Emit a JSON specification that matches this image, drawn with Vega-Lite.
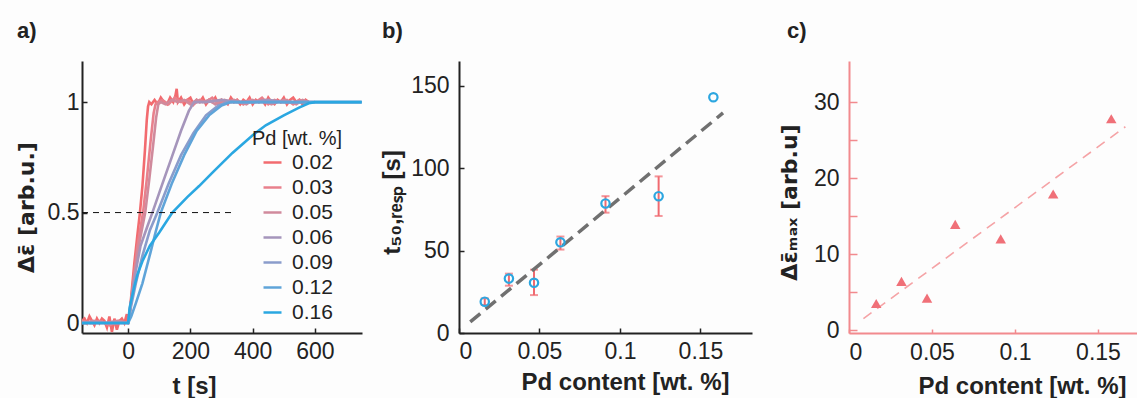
{
  "$schema": "https://vega.github.io/schema/vega-lite/v6.json",
  "background": "#fdfdfd",
  "padding": {"left": 14, "top": 20, "right": 0, "bottom": 0},
  "autosize": {"type": "pad"},
  "config": {
    "font": "Liberation Sans",
    "view": {"stroke": null},
    "axis": {
      "grid": false,
      "domainColor": "#222222",
      "domainWidth": 2,
      "tickColor": "#222222",
      "tickWidth": 1.5,
      "tickSize": -5,
      "labelFont": "Liberation Sans",
      "labelFontSize": 23,
      "labelColor": "#222222",
      "titleFont": "Liberation Sans",
      "titleFontSize": 24,
      "titleFontWeight": "bold",
      "titleColor": "#222222"
    },
    "title": {"font": "Liberation Sans", "fontSize": 22, "fontWeight": "bold", "color": "#222222", "anchor": "start", "frame": "group"}
  },
  "bounds": "flush",
  "spacing": 97,
  "datasets": {
    "curves": [
      {"p":"0.02","t":-148,"v":0.01},{"p":"0.02","t":-140,"v":0.02},{"p":"0.02","t":-132,"v":0.0},{"p":"0.02","t":-124,"v":0.03},{"p":"0.02","t":-116,"v":0.01},{"p":"0.02","t":-108,"v":-0.01},{"p":"0.02","t":-100,"v":0.02},{"p":"0.02","t":-92,"v":0.0},{"p":"0.02","t":-84,"v":0.02},{"p":"0.02","t":-76,"v":0.01},{"p":"0.02","t":-68,"v":-0.02},{"p":"0.02","t":-60,"v":0.03},{"p":"0.02","t":-52,"v":-0.04},{"p":"0.02","t":-44,"v":0.02},{"p":"0.02","t":-36,"v":-0.03},{"p":"0.02","t":-28,"v":0.01},{"p":"0.02","t":-20,"v":0.02},{"p":"0.02","t":-12,"v":0.0},{"p":"0.02","t":-4,"v":0.04},{"p":"0.02","t":0,"v":0.0},
      {"p":"0.02","t":3,"v":0.02},{"p":"0.02","t":10,"v":0.12},{"p":"0.02","t":20,"v":0.27},{"p":"0.02","t":30,"v":0.4},{"p":"0.02","t":38,"v":0.5},{"p":"0.02","t":46,"v":0.62},{"p":"0.02","t":54,"v":0.78},{"p":"0.02","t":60,"v":0.92},{"p":"0.02","t":64,"v":0.98},{"p":"0.02","t":68,"v":1.0},
      {"p":"0.02","t":75,"v":0.99},{"p":"0.02","t":85,"v":1.01},{"p":"0.02","t":95,"v":0.99},{"p":"0.02","t":105,"v":1.02},{"p":"0.02","t":115,"v":1.0},{"p":"0.02","t":125,"v":0.99},{"p":"0.02","t":135,"v":1.02},{"p":"0.02","t":145,"v":1.0},{"p":"0.02","t":152,"v":1.03},{"p":"0.02","t":156,"v":1.06},{"p":"0.02","t":160,"v":1.0},{"p":"0.02","t":170,"v":1.02},{"p":"0.02","t":180,"v":0.99},{"p":"0.02","t":190,"v":1.01},{"p":"0.02","t":200,"v":1.02},{"p":"0.02","t":210,"v":0.99},{"p":"0.02","t":220,"v":1.01},{"p":"0.02","t":230,"v":1.0},{"p":"0.02","t":240,"v":1.02},{"p":"0.02","t":250,"v":0.99},{"p":"0.02","t":260,"v":1.01},{"p":"0.02","t":270,"v":1.0},{"p":"0.02","t":280,"v":1.02},{"p":"0.02","t":290,"v":0.99},{"p":"0.02","t":300,"v":1.01},{"p":"0.02","t":310,"v":1.0},{"p":"0.02","t":320,"v":0.99},{"p":"0.02","t":330,"v":1.02},{"p":"0.02","t":340,"v":1.0},{"p":"0.02","t":350,"v":1.01},{"p":"0.02","t":360,"v":0.99},{"p":"0.02","t":370,"v":1.01},{"p":"0.02","t":380,"v":1.0},{"p":"0.02","t":390,"v":1.02},{"p":"0.02","t":400,"v":0.99},{"p":"0.02","t":410,"v":1.01},{"p":"0.02","t":420,"v":1.0},{"p":"0.02","t":430,"v":1.01},{"p":"0.02","t":440,"v":0.99},{"p":"0.02","t":450,"v":1.02},{"p":"0.02","t":460,"v":1.0},{"p":"0.02","t":470,"v":0.99},{"p":"0.02","t":480,"v":1.01},{"p":"0.02","t":490,"v":1.0},{"p":"0.02","t":500,"v":1.02},{"p":"0.02","t":510,"v":0.99},{"p":"0.02","t":520,"v":1.01},{"p":"0.02","t":530,"v":1.02},{"p":"0.02","t":540,"v":1.0},{"p":"0.02","t":550,"v":1.01},{"p":"0.02","t":560,"v":0.99},{"p":"0.02","t":570,"v":1.01},{"p":"0.02","t":580,"v":1.0},
      {"p":"0.03","t":-148,"v":0.01},{"p":"0.03","t":-120,"v":0.0},{"p":"0.03","t":-90,"v":0.01},{"p":"0.03","t":-60,"v":-0.01},{"p":"0.03","t":-30,"v":0.01},{"p":"0.03","t":0,"v":0.0},
      {"p":"0.03","t":5,"v":0.04},{"p":"0.03","t":15,"v":0.17},{"p":"0.03","t":30,"v":0.35},{"p":"0.03","t":48,"v":0.5},{"p":"0.03","t":60,"v":0.65},{"p":"0.03","t":72,"v":0.82},{"p":"0.03","t":82,"v":0.95},{"p":"0.03","t":88,"v":0.99},{"p":"0.03","t":95,"v":1.0},
      {"p":"0.03","t":110,"v":1.01},{"p":"0.03","t":130,"v":0.99},{"p":"0.03","t":150,"v":1.02},{"p":"0.03","t":170,"v":1.0},{"p":"0.03","t":190,"v":1.01},{"p":"0.03","t":210,"v":0.99},{"p":"0.03","t":230,"v":1.01},{"p":"0.03","t":250,"v":1.0},{"p":"0.03","t":270,"v":1.02},{"p":"0.03","t":290,"v":0.99},{"p":"0.03","t":310,"v":1.01},{"p":"0.03","t":330,"v":1.0},{"p":"0.03","t":350,"v":1.01},{"p":"0.03","t":370,"v":0.99},{"p":"0.03","t":390,"v":1.01},{"p":"0.03","t":410,"v":1.0},{"p":"0.03","t":430,"v":1.02},{"p":"0.03","t":450,"v":0.99},{"p":"0.03","t":470,"v":1.01},{"p":"0.03","t":490,"v":1.0},{"p":"0.03","t":510,"v":1.01},{"p":"0.03","t":530,"v":0.99},{"p":"0.03","t":550,"v":1.01},{"p":"0.03","t":570,"v":1.0},{"p":"0.03","t":580,"v":1.0},
      {"p":"0.05","t":-148,"v":0.0},{"p":"0.05","t":-110,"v":0.01},{"p":"0.05","t":-70,"v":0.0},{"p":"0.05","t":-35,"v":0.01},{"p":"0.05","t":0,"v":0.0},
      {"p":"0.05","t":5,"v":0.04},{"p":"0.05","t":15,"v":0.15},{"p":"0.05","t":30,"v":0.32},{"p":"0.05","t":55,"v":0.5},{"p":"0.05","t":68,"v":0.65},{"p":"0.05","t":80,"v":0.8},{"p":"0.05","t":90,"v":0.93},{"p":"0.05","t":97,"v":0.99},{"p":"0.05","t":105,"v":1.0},
      {"p":"0.05","t":120,"v":0.99},{"p":"0.05","t":140,"v":1.01},{"p":"0.05","t":160,"v":1.0},{"p":"0.05","t":180,"v":1.01},{"p":"0.05","t":200,"v":0.99},{"p":"0.05","t":220,"v":1.01},{"p":"0.05","t":240,"v":1.0},{"p":"0.05","t":260,"v":1.01},{"p":"0.05","t":280,"v":0.99},{"p":"0.05","t":300,"v":1.01},{"p":"0.05","t":320,"v":1.0},{"p":"0.05","t":340,"v":1.01},{"p":"0.05","t":360,"v":1.0},{"p":"0.05","t":380,"v":0.99},{"p":"0.05","t":400,"v":1.01},{"p":"0.05","t":420,"v":1.0},{"p":"0.05","t":440,"v":1.01},{"p":"0.05","t":460,"v":0.99},{"p":"0.05","t":480,"v":1.0},{"p":"0.05","t":500,"v":1.01},{"p":"0.05","t":520,"v":1.0},{"p":"0.05","t":540,"v":0.99},{"p":"0.05","t":560,"v":1.01},{"p":"0.05","t":580,"v":1.0},
      {"p":"0.06","t":-148,"v":0.0},{"p":"0.06","t":0,"v":0.0},{"p":"0.06","t":5,"v":0.05},{"p":"0.06","t":20,"v":0.2},{"p":"0.06","t":40,"v":0.35},{"p":"0.06","t":60,"v":0.43},{"p":"0.06","t":78,"v":0.5},{"p":"0.06","t":110,"v":0.63},{"p":"0.06","t":140,"v":0.75},{"p":"0.06","t":170,"v":0.87},{"p":"0.06","t":195,"v":0.96},{"p":"0.06","t":212,"v":1.0},{"p":"0.06","t":250,"v":1.0},{"p":"0.06","t":300,"v":1.01},{"p":"0.06","t":350,"v":1.0},{"p":"0.06","t":400,"v":1.0},{"p":"0.06","t":450,"v":1.01},{"p":"0.06","t":500,"v":1.0},{"p":"0.06","t":550,"v":1.0},{"p":"0.06","t":600,"v":1.0},
      {"p":"0.09","t":-148,"v":0.0},{"p":"0.09","t":0,"v":0.0},{"p":"0.09","t":10,"v":0.08},{"p":"0.09","t":25,"v":0.18},{"p":"0.09","t":45,"v":0.3},{"p":"0.09","t":70,"v":0.42},{"p":"0.09","t":94,"v":0.5},{"p":"0.09","t":130,"v":0.63},{"p":"0.09","t":170,"v":0.76},{"p":"0.09","t":210,"v":0.86},{"p":"0.09","t":250,"v":0.94},{"p":"0.09","t":290,"v":0.985},{"p":"0.09","t":320,"v":1.0},{"p":"0.09","t":400,"v":1.0},{"p":"0.09","t":500,"v":1.0},{"p":"0.09","t":600,"v":1.0},{"p":"0.09","t":750,"v":1.0},
      {"p":"0.12","t":-148,"v":0.0},{"p":"0.12","t":0,"v":0.0},{"p":"0.12","t":10,"v":0.03},{"p":"0.12","t":25,"v":0.09},{"p":"0.12","t":46,"v":0.18},{"p":"0.12","t":72,"v":0.32},{"p":"0.12","t":88,"v":0.41},{"p":"0.12","t":105,"v":0.5},{"p":"0.12","t":140,"v":0.63},{"p":"0.12","t":180,"v":0.76},{"p":"0.12","t":220,"v":0.87},{"p":"0.12","t":260,"v":0.94},{"p":"0.12","t":300,"v":0.985},{"p":"0.12","t":330,"v":1.0},{"p":"0.12","t":450,"v":1.0},{"p":"0.12","t":600,"v":1.0},{"p":"0.12","t":750,"v":1.0},
      {"p":"0.16","t":-148,"v":0.0},{"p":"0.16","t":0,"v":0.0},{"p":"0.16","t":5,"v":0.07},{"p":"0.16","t":19,"v":0.16},{"p":"0.16","t":30,"v":0.22},{"p":"0.16","t":46,"v":0.28},{"p":"0.16","t":70,"v":0.35},{"p":"0.16","t":100,"v":0.41},{"p":"0.16","t":142,"v":0.5},{"p":"0.16","t":190,"v":0.57},{"p":"0.16","t":228,"v":0.62},{"p":"0.16","t":270,"v":0.68},{"p":"0.16","t":335,"v":0.77},{"p":"0.16","t":400,"v":0.85},{"p":"0.16","t":442,"v":0.895},{"p":"0.16","t":500,"v":0.94},{"p":"0.16","t":549,"v":0.975},{"p":"0.16","t":580,"v":0.995},{"p":"0.16","t":600,"v":1.0},{"p":"0.16","t":650,"v":1.0},{"p":"0.16","t":700,"v":1.0},{"p":"0.16","t":750,"v":1.0}
    ],
    "half": [{"t0": -148, "t1": 335, "v": 0.5}],
    "t50": [
      {"pd":0.016,"t":19},{"pd":0.031,"t":33},{"pd":0.0466,"t":30.5},{"pd":0.063,"t":55},{"pd":0.091,"t":78.6},{"pd":0.124,"t":83},{"pd":0.158,"t":143}
    ],
    "t50err": [
      {"pd":0.016,"lo":17,"hi":21},{"pd":0.031,"lo":28.7,"hi":36},{"pd":0.0466,"lo":23,"hi":38.4},{"pd":0.063,"lo":50.6,"hi":58.5},{"pd":0.091,"lo":73,"hi":83},{"pd":0.124,"lo":71,"hi":95}
    ],
    "t50fit": [{"pd":0.007,"t":6.7},{"pd":0.164,"t":133.5}],
    "emax": [
      {"pd":0.0164,"e":3.5},{"pd":0.0316,"e":6.4},{"pd":0.047,"e":4.2},{"pd":0.064,"e":13.9},{"pd":0.0914,"e":12.0},{"pd":0.123,"e":17.9},{"pd":0.158,"e":27.8}
    ],
    "emaxfit": [{"pd":0.0087,"e":1.5},{"pd":0.1665,"e":26.75}]
  },
  "hconcat": [
    {
      "width": 280,
      "height": 272,
      "title": {"text": "a)", "dx": -65, "offset": 18},
      "layer": [
        {
          "data": {"name": "curves"},
          "mark": {"type": "line", "strokeWidth": 2.6, "clip": true},
          "encoding": {
            "x": {"field": "t", "type": "quantitative",
              "scale": {"domain": [-148, 751], "nice": false, "zero": false},
              "axis": {"values": [0, 200, 400, 600], "title": "t [s]", "labelPadding": 12, "titleX": 112, "titleY": 60, "titleBaseline": "alphabetic"}},
            "y": {"field": "v", "type": "quantitative",
              "scale": {"domain": [-0.045, 1.186], "nice": false, "zero": false},
              "axis": {"values": [0, 0.5, 1], "format": "~g", "title": "Δε̄  [arb.u.]", "titleFont": "DejaVu Sans", "titleFontSize": 22, "labelPadding": 8, "titleX": -49, "titleY": 146, "titleBaseline": "alphabetic"}},
            "color": {"field": "p", "type": "nominal",
              "scale": {"domain": ["0.02","0.03","0.05","0.06","0.09","0.12","0.16"],
                        "range": ["#f26b6f","#e8808c","#d08a9c","#a595bb","#8a9ccb","#5fa4d9","#2aa7e1"]},
              "legend": {"title": "Pd [wt. %]", "orient": "none", "legendX": 170, "legendY": 68,
                "titleFontSize": 20, "titleFontWeight": "normal", "titleColor": "#222222", "titleAnchor": "middle", "titlePadding": 3,
                "labelFontSize": 21, "labelColor": "#222222", "labelOffset": 9,
                "symbolType": "stroke", "symbolSize": 324, "symbolStrokeWidth": 2.5, "rowPadding": 3}}
          }
        },
        {
          "data": {"name": "half"},
          "mark": {"type": "rule", "color": "#111111", "strokeWidth": 1, "strokeDash": [6, 5]},
          "encoding": {
            "x": {"field": "t0", "type": "quantitative"},
            "x2": {"field": "t1"},
            "y": {"field": "v", "type": "quantitative"}
          }
        }
      ]
    },
    {
      "width": 293,
      "height": 272,
      "title": {"text": "b)", "dx": -77, "offset": 18},
      "layer": [
        {
          "data": {"name": "t50err"},
          "mark": {"type": "errorbar", "color": "#f06a70", "thickness": 2, "ticks": {"size": 8, "thickness": 2, "color": "#f06a70"}},
          "encoding": {
            "x": {"field": "pd", "type": "quantitative",
              "scale": {"domain": [0, 0.182], "nice": false, "zero": false},
              "axis": {"values": [0, 0.05, 0.1, 0.15], "format": "~g", "title": "Pd content [wt. %]", "labelPadding": 12, "titleX": 166, "titleY": 56, "titleBaseline": "alphabetic"}},
            "y": {"field": "lo", "type": "quantitative",
              "scale": {"domain": [0, 165], "nice": false, "zero": false},
              "axis": {"values": [0, 50, 100, 150], "title": "t₅₀,ᵣₑₛₚ [s]", "labelPadding": 15, "titleX": -60, "titleY": 141, "titleBaseline": "alphabetic"}},
            "y2": {"field": "hi"}
          }
        },
        {
          "data": {"name": "t50fit"},
          "mark": {"type": "line", "color": "#707070", "strokeWidth": 3.5, "strokeDash": [13, 7]},
          "encoding": {
            "x": {"field": "pd", "type": "quantitative"},
            "y": {"field": "t", "type": "quantitative"}
          }
        },
        {
          "data": {"name": "t50"},
          "mark": {"type": "point", "shape": "circle", "size": 70, "strokeWidth": 2.2, "color": "#2ca6e0", "filled": false, "opacity": 1},
          "encoding": {
            "x": {"field": "pd", "type": "quantitative"},
            "y": {"field": "t", "type": "quantitative"}
          }
        }
      ]
    },
    {
      "width": 288,
      "height": 272,
      "title": {"text": "c)", "dx": -62, "offset": 18},
      "layer": [
        {
          "data": {"name": "emaxfit"},
          "mark": {"type": "line", "color": "#f5a3a6", "strokeWidth": 1.6, "strokeDash": [10, 7]},
          "encoding": {
            "x": {"field": "pd", "type": "quantitative",
              "scale": {"domain": [0, 0.1735], "nice": false, "zero": false},
              "axis": {"values": [0, 0.05, 0.1, 0.15], "format": "~g", "title": "Pd content [wt. %]", "domainColor": "#f28a8e", "tickColor": "#f28a8e", "tickSize": -4, "labelPadding": 12, "titleX": 173, "titleY": 60, "titleBaseline": "alphabetic"}},
            "y": {"field": "e", "type": "quantitative",
              "scale": {"domain": [-0.39, 35.4], "nice": false, "zero": false},
              "axis": {"values": [0, 5, 10, 15, 20, 25, 30], "labelExpr": "datum.value % 10 === 0 ? datum.label : ''", "title": "Δε̄ₘₐₓ [arb.u]", "titleFont": "DejaVu Sans", "titleFontSize": 22, "domainColor": "#f28a8e", "tickColor": "#f28a8e", "tickSize": -8, "labelPadding": 18, "titleX": -53, "titleY": 141, "titleBaseline": "alphabetic"}}
          }
        },
        {
          "data": {"name": "emax"},
          "mark": {"type": "point", "shape": "triangle-up", "size": 110, "filled": true, "color": "#f07078", "opacity": 1},
          "encoding": {
            "x": {"field": "pd", "type": "quantitative"},
            "y": {"field": "e", "type": "quantitative"}
          }
        }
      ]
    }
  ]
}
